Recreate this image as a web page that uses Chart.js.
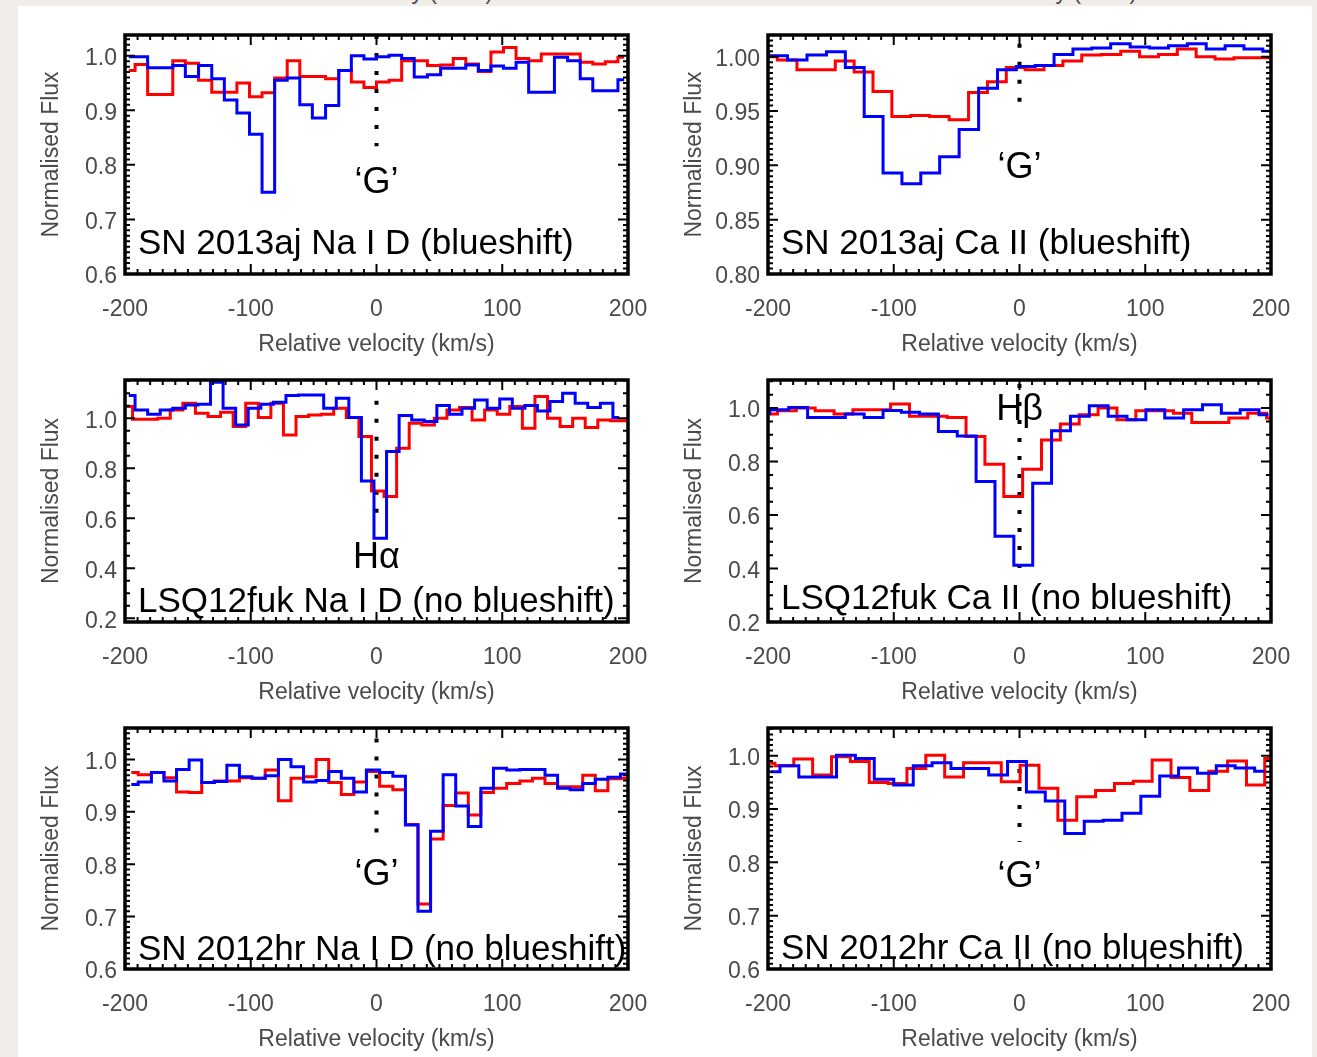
<!DOCTYPE html>
<html>
<head>
<meta charset="utf-8">
<script src="https://cdn.jsdelivr.net/npm/chart.js@4.4.1/dist/chart.umd.min.js"></script>
<style>
  html, body { margin: 0; padding: 0; }
  body { width: 1317px; height: 1057px; background: #f1eee9; position: relative; overflow: hidden; }
  #sheet { position: absolute; left: 18px; top: 6px; width: 1294px; height: 1060px; background: #fff; }
  canvas { position: absolute; }
  .cut { position: absolute; top: -20px; width: 300px; margin-left: -150px; text-align: center;
         font: 23px/1 "Liberation Sans", Arial, sans-serif; color: #4a4a4a; }
</style>
</head>
<body>
<div id="sheet"></div>
<div class="cut" style="left:375px">Relative velocity (km/s)</div>
<div class="cut" style="left:1019px">Relative velocity (km/s)</div>
<script>
// velocity bins (km/s) and normalised flux

// SN 2013aj, Na I D
const velNaAj = [-197, -187, -177, -167, -157, -147, -136, -126, -116, -106, -96, -86, -76, -66, -56, -46, -35, -25, -15, -5,
                 5, 15, 25, 35, 46, 56, 66, 76, 86, 96, 106, 116, 126, 136, 147, 157, 167, 177, 187, 197];
const blueNaAj = [0.998, 0.998, 0.978, 0.978, 0.982, 0.962, 0.982, 0.958, 0.919, 0.895, 0.856, 0.750, 0.955, 0.959, 0.910, 0.886, 0.909, 0.973, 1.000, 0.994,
                  0.998, 1.001, 0.995, 0.961, 0.965, 0.977, 0.977, 0.983, 0.973, 0.981, 0.977, 0.988, 0.933, 0.933, 0.997, 0.991, 0.958, 0.936, 0.936, 0.956];
const redNaAj = [0.973, 0.984, 0.929, 0.929, 0.991, 0.986, 0.955, 0.933, 0.933, 0.950, 0.925, 0.932, 0.959, 0.991, 0.962, 0.962, 0.958, 0.973, 0.952, 0.942,
                 0.952, 0.955, 0.991, 0.991, 0.982, 0.983, 0.995, 0.985, 0.971, 1.007, 1.015, 0.995, 0.991, 1.003, 1.003, 1.003, 0.988, 0.985, 0.989, 0.997];

// SN 2013aj, Ca II
const velCaAjBlue = [-207, -192, -177, -161, -146, -131, -116, -101, -86, -71, -56, -40, -25, -10,
                     5, 20, 35, 50, 65, 80, 96, 111, 126, 141, 156, 171, 186, 201];
const blueCaAj = [1.003, 1.001, 0.997, 1.0015, 1.0045, 0.990, 0.945, 0.893, 0.883, 0.893, 0.908, 0.933, 0.971, 0.988,
                  0.991, 0.992, 1.002, 1.007, 1.008, 1.012, 1.009, 1.008, 1.010, 1.012, 1.007, 1.010, 1.007, 1.005];
const velCaAjRed = [-200, -185, -169, -154, -139, -124, -109, -94, -79, -64, -48, -33, -18, -3,
                    12, 27, 42, 57, 73, 88, 103, 118, 133, 148, 163, 178, 194, 209];
const redCaAj = [1.000, 0.997, 0.988, 0.988, 0.996, 0.986, 0.968, 0.945, 0.946, 0.945, 0.942, 0.967, 0.977, 0.990,
                 0.988, 0.992, 0.996, 1.0015, 1.002, 1.005, 1.000, 1.002, 1.007, 1.000, 0.998, 0.999, 0.999, 0.994];

// LSQ12fuk, Na I D
const velNaFukBlue = [-197, -187, -177, -167, -157, -147, -137, -127, -117, -107, -97, -87, -77, -67, -57, -47, -37, -27, -17, -7,
                      3, 13, 23, 33, 43, 53, 63, 73, 83, 93, 103, 113, 123, 133, 143, 153, 163, 173, 183, 193];
const blueNaFuk = [1.091, 1.033, 1.016, 1.033, 1.040, 1.053, 1.056, 1.144, 1.040, 0.973, 1.040, 1.056, 1.064, 1.091, 1.093, 1.093, 1.040, 1.080, 1.003, 0.749,
                   0.520, 0.867, 1.011, 0.993, 0.987, 1.051, 1.016, 1.040, 1.073, 1.040, 1.077, 1.040, 1.051, 1.029, 1.067, 1.100, 1.060, 1.043, 1.060, 1.003];
const velNaFukRed = [-199, -189, -179, -169, -159, -149, -139, -129, -119, -109, -99, -89, -79, -69, -59, -49, -39, -29, -19, -9,
                     1, 11, 21, 31, 41, 51, 61, 71, 81, 91, 101, 111, 121, 131, 141, 151, 161, 171, 181, 191, 201];
const redNaFuk = [1.047, 0.996, 0.996, 1.000, 1.033, 1.060, 1.020, 1.007, 1.024, 0.967, 1.060, 1.003, 1.060, 0.933, 1.007, 1.013, 1.016, 1.040, 1.003, 0.927,
                  0.709, 0.687, 0.880, 0.980, 0.973, 1.000, 1.033, 1.043, 0.993, 1.033, 1.016, 1.047, 0.960, 1.087, 1.000, 0.967, 1.000, 0.963, 0.993, 0.990, 0.990];

// LSQ12fuk, Ca II
const velCaFukBlue = [-206, -191, -176, -161, -146, -131, -116, -101, -87, -72, -57, -42, -27, -12,
                      3, 18, 33, 48, 63, 78, 93, 108, 123, 138, 153, 168, 183, 198];
const blueCaFuk = [0.981, 0.994, 1.0025, 0.965, 0.965, 0.978, 0.965, 0.991, 0.984, 0.978, 0.9125, 0.896, 0.725, 0.521,
                   0.4125, 0.719, 0.915, 0.969, 1.009, 0.969, 0.956, 0.994, 0.9625, 0.994, 1.0125, 0.981, 0.994, 0.975];
const velCaFukRed = [-200, -185, -170, -155, -140, -125, -110, -95, -80, -65, -50, -35, -20, -5,
                     10, 25, 40, 55, 70, 85, 100, 115, 130, 144, 159, 174, 189, 204];
const redCaFuk = [0.978, 0.990, 1.000, 0.990, 0.978, 0.994, 0.994, 1.015, 0.969, 0.969, 0.965, 0.894, 0.790, 0.669,
                  0.771, 0.881, 0.940, 0.975, 1.000, 0.956, 0.990, 0.990, 0.981, 0.946, 0.946, 0.9625, 0.981, 0.9625];

// SN 2012hr, Na I D
const velNaHr = [-195, -184, -174, -164, -154, -144, -134, -124, -114, -104, -94, -83, -73, -63, -53, -43, -33, -23, -13, -3,
                 8, 18, 28, 38, 48, 58, 68, 78, 88, 98, 109, 119, 129, 139, 149, 159, 169, 179, 189, 199];
const blueNaHr = [0.952, 0.957, 0.975, 0.959, 0.981, 0.999, 0.956, 0.958, 0.989, 0.967, 0.964, 0.969, 1.000, 0.986, 0.957, 0.960, 0.977, 0.964, 0.938, 0.980,
                  0.975, 0.968, 0.875, 0.710, 0.863, 0.971, 0.911, 0.872, 0.945, 0.983, 0.980, 0.981, 0.981, 0.970, 0.945, 0.942, 0.954, 0.962, 0.966, 0.972];
const redNaHr = [0.975, 0.971, 0.975, 0.965, 0.938, 0.937, 0.956, 0.959, 0.959, 0.965, 0.964, 0.980, 0.921, 0.964, 0.967, 1.000, 0.956, 0.933, 0.957, 0.977,
                 0.949, 0.942, 0.876, 0.724, 0.848, 0.912, 0.936, 0.894, 0.937, 0.945, 0.954, 0.959, 0.964, 0.954, 0.948, 0.948, 0.970, 0.940, 0.963, 0.964];

// SN 2012hr, Ca II
const velCaHrBlue = [-198, -183, -168, -153, -138, -123, -108, -92, -77, -62, -47, -32, -17, -2,
                     13, 28, 44, 59, 74, 89, 104, 119, 134, 149, 164, 179, 195];
const blueCaHr = [0.970, 0.981, 0.960, 0.960, 1.001, 0.995, 0.956, 0.945, 0.981, 0.987, 0.976, 0.976, 0.964, 0.989,
                  0.932, 0.915, 0.854, 0.877, 0.879, 0.892, 0.924, 0.962, 0.977, 0.967, 0.981, 0.977, 0.971];
const velCaHrRed = [-202, -187, -172, -157, -142, -127, -112, -97, -82, -67, -52, -37, -22, -7,
                    8, 23, 38, 53, 68, 83, 98, 113, 128, 143, 158, 173, 188, 202];
const redCaHr = [0.986, 0.981, 0.994, 0.964, 0.998, 0.989, 0.950, 0.948, 0.976, 1.001, 0.960, 0.987, 0.987, 0.951,
                 0.982, 0.939, 0.879, 0.923, 0.935, 0.948, 0.952, 0.992, 0.959, 0.935, 0.971, 0.990, 0.945, 0.995];

const FONT = '"Liberation Sans", Arial, Helvetica, sans-serif';
const GREY = '#4a4a4a';

// box = plot frame in page pixels: left, top, right, bottom
const panels = [
  { box: [125, 35, 628, 274], yMin: 0.6, yMax: 1.038, major: 0.1, minor: 0.01, dec: 1,
    blue: [velNaAj, blueNaAj], red: [velNaAj, redNaAj],
    title: 'SN 2013aj Na I D (blueshift)', titleUp: 20, mark: '\u2018G\u2019', markAt: 0.749, dots: [1.038, 0.834] },
  { box: [768, 35, 1271, 274], yMin: 0.80, yMax: 1.02, major: 0.05, minor: 0.005, dec: 2,
    blue: [velCaAjBlue, blueCaAj], red: [velCaAjRed, redCaAj],
    title: 'SN 2013aj Ca II (blueshift)', titleUp: 20, mark: '\u2018G\u2019', markAt: 0.888, dots: [1.012, 0.952] },
  { box: [125, 380, 628, 622], yMin: 0.185, yMax: 1.153, major: 0.2, minor: 0.05, dec: 1,
    blue: [velNaFukBlue, blueNaFuk], red: [velNaFukRed, redNaFuk],
    title: 'LSQ12fuk Na I D (no blueshift)', titleUp: 10, mark: 'H\u03b1', markAt: 0.40, dots: [1.07, 0.585] },
  { box: [768, 380, 1271, 622], yMin: 0.2, yMax: 1.105, major: 0.2, minor: 0.05, dec: 1,
    blue: [velCaFukBlue, blueCaFuk], red: [velCaFukRed, redCaFuk],
    title: 'LSQ12fuk Ca II (no blueshift)', titleUp: 13, mark: 'H\u03b2', markAt: 0.956, dots: [1.09, 0.401] },
  { box: [125, 728, 628, 969], yMin: 0.6, yMax: 1.06, major: 0.1, minor: 0.01, dec: 1,
    blue: [velNaHr, blueNaHr], red: [velNaHr, redNaHr],
    title: 'SN 2012hr Na I D (no blueshift)', titleUp: 9, mark: '\u2018G\u2019', markAt: 0.761, dots: [1.04, 0.842] },
  { box: [768, 728, 1271, 969], yMin: 0.6, yMax: 1.052, major: 0.1, minor: 0.01, dec: 1,
    blue: [velCaHrBlue, blueCaHr], red: [velCaHrRed, redCaHr],
    title: 'SN 2012hr Ca II (no blueshift)', titleUp: 10, mark: '\u2018G\u2019', markAt: 0.754, dots: [0.975, 0.838] }
];

// IDL-style frame: thick box, inward ticks on all sides, dotted zero line, labels
const idlFrame = {
  id: 'idlFrame',
  beforeDatasetsDraw(chart, args, opts) {
    const p = panels[opts.index];
    const { ctx, scales: { x, y } } = chart;
    const x0 = x.getPixelForValue(0);
    ctx.save();
    ctx.strokeStyle = '#000';
    ctx.lineWidth = 4;
    ctx.setLineDash([4, 14]);
    ctx.beginPath();
    ctx.moveTo(x0, y.getPixelForValue(p.dots[0]));
    ctx.lineTo(x0, y.getPixelForValue(p.dots[1]));
    ctx.stroke();
    ctx.restore();
  },
  afterDatasetsDraw(chart, args, opts) {
    const p = panels[opts.index];
    const { ctx, chartArea: a, scales: { x, y } } = chart;
    ctx.save();
    ctx.strokeStyle = '#000';
    ctx.lineWidth = 2;
    ctx.beginPath();
    for (let k = -20; k <= 20; k++) {
      const px = x.getPixelForValue(k * 10);
      const len = k % 10 === 0 ? 10 : 5;
      ctx.moveTo(px, a.bottom); ctx.lineTo(px, a.bottom - len);
      ctx.moveTo(px, a.top); ctx.lineTo(px, a.top + len);
    }
    const per = Math.round(p.major / p.minor);
    const n0 = Math.ceil(p.yMin / p.minor - 1e-6);
    const n1 = Math.floor(p.yMax / p.minor + 1e-6);
    for (let n = n0; n <= n1; n++) {
      const py = y.getPixelForValue(n * p.minor);
      const len = n % per === 0 ? 10 : 5;
      ctx.moveTo(a.left, py); ctx.lineTo(a.left + len, py);
      ctx.moveTo(a.right, py); ctx.lineTo(a.right - len, py);
    }
    ctx.stroke();
    ctx.lineWidth = 3.5;
    ctx.strokeRect(a.left, a.top, a.right - a.left, a.bottom - a.top);

    ctx.fillStyle = '#000';
    ctx.textBaseline = 'alphabetic';
    ctx.font = '35px ' + FONT;
    ctx.textAlign = 'left';
    ctx.fillText(p.title, a.left + 13, a.bottom - p.titleUp);
    ctx.font = '36px ' + FONT;
    ctx.textAlign = 'center';
    ctx.fillText(p.mark, x.getPixelForValue(0), y.getPixelForValue(p.markAt));
    ctx.restore();
  }
};

panels.forEach((p, i) => {
  const [bl, bt, br, bb] = p.box;
  const canvas = document.createElement('canvas');
  canvas.width = br - bl + 150;
  canvas.height = bb - bt + 30 + 88;
  canvas.style.left = (bl - 100) + 'px';
  canvas.style.top = (bt - 30) + 'px';
  document.body.appendChild(canvas);

  const toPoints = (vel, flux) => vel.map((v, j) => ({ x: v, y: flux[j] }));

  new Chart(canvas, {
    type: 'line',
    data: {
      datasets: [
        { data: toPoints(p.blue[0], p.blue[1]), borderColor: '#0000ff', borderWidth: 3, stepped: 'middle', pointRadius: 0, fill: false },
        { data: toPoints(p.red[0], p.red[1]), borderColor: '#ff0000', borderWidth: 3, stepped: 'middle', pointRadius: 0, fill: false }
      ]
    },
    options: {
      responsive: false,
      animation: false,
      events: [],
      layout: { padding: { top: 30, right: 50, left: 0, bottom: 0 } },
      plugins: {
        legend: { display: false },
        tooltip: { enabled: false },
        idlFrame: { index: i }
      },
      scales: {
        x: {
          type: 'linear', min: -200, max: 200,
          grid: { display: false, drawTicks: false },
          border: { display: false },
          ticks: { stepSize: 100, padding: 22, color: GREY, font: { family: FONT, size: 23 }, callback: v => String(v) },
          title: { display: true, text: 'Relative velocity (km/s)', color: GREY, font: { family: FONT, size: 23 }, padding: { top: 0, bottom: 4 } },
          afterFit: s => { s.height = 88; }
        },
        y: {
          type: 'linear', min: p.yMin, max: p.yMax,
          grid: { display: false, drawTicks: false },
          border: { display: false },
          ticks: { stepSize: p.major, includeBounds: false, padding: 8, labelOffset: 3, color: GREY, font: { family: FONT, size: 23 },
                   callback: v => v.toFixed(p.dec) },
          title: { display: true, text: 'Normalised Flux', color: GREY, font: { family: FONT, size: 23 }, padding: { top: 13, bottom: 0 } },
          afterFit: s => { s.width = 100; }
        }
      }
    },
    plugins: [idlFrame]
  });
});
</script>
</body>
</html>
